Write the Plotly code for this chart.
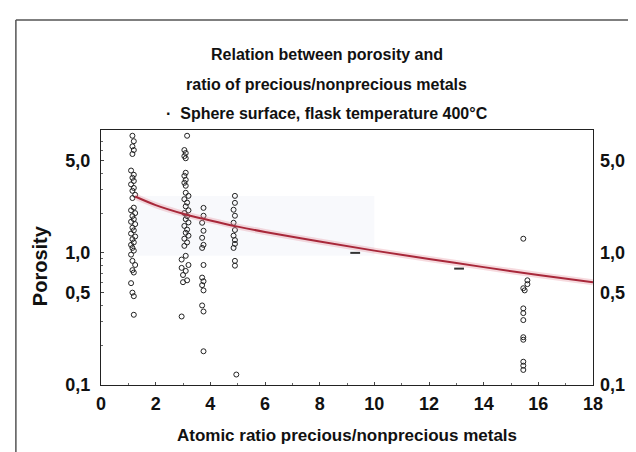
import plotly.graph_objects as go

# ---- data ----
c1_x = [1.15, 1.2, 1.15, 1.2, 1.15, 1.1, 1.2, 1.15, 1.2, 1.1, 1.2, 1.15, 1.25, 1.15,
        1.2, 1.1, 1.25, 1.15, 1.2, 1.1, 1.25, 1.15, 1.2, 1.1, 1.25, 1.15, 1.2, 1.1,
        1.15, 1.2, 1.1, 1.15, 1.25, 1.15, 1.2, 1.1, 1.15, 1.2, 1.2]
c1_y = [7.7, 7.0, 6.4, 6.0, 5.6, 4.2, 3.9, 3.7, 3.5, 3.3, 3.1, 2.95, 2.75, 2.6,
        2.2, 2.1, 2.0, 1.9, 1.8, 1.72, 1.65, 1.55, 1.48, 1.4, 1.33, 1.27, 1.2, 1.15,
        1.09, 1.04, 0.97, 0.87, 0.81, 0.74, 0.71, 0.59, 0.50, 0.47, 0.34]

c2_x = [3.15, 3.05, 3.1, 3.05, 3.1, 3.1, 3.05, 3.1, 3.05, 3.1,
        3.1, 3.2, 3.05, 3.15, 3.1, 3.2, 3.05, 3.15, 3.1, 3.2, 3.05, 3.15, 3.1, 3.2, 3.05, 3.15,
        3.05, 3.1, 2.95, 3.2, 2.95, 3.1, 3.0, 3.15, 3.0, 2.95]
c2_y = [7.7, 6.0, 5.7, 5.4, 5.2, 4.04, 3.83, 3.57, 3.39, 3.22,
        2.85, 2.7, 2.55, 2.4, 2.25, 2.1, 2.0, 1.9, 1.8, 1.7, 1.6, 1.5, 1.42, 1.35, 1.28, 1.2,
        1.13, 0.95, 0.89, 0.81, 0.77, 0.73, 0.68, 0.62, 0.60, 0.33]

c3_x = [3.75, 3.75, 3.7, 3.75, 3.7, 3.75, 3.7, 3.75, 3.7, 3.75, 3.7, 3.75, 3.7, 3.75, 3.75]
c3_y = [2.19, 1.91, 1.69, 1.47, 1.30, 1.15, 1.09, 0.81, 0.65, 0.61, 0.57, 0.52, 0.40, 0.36, 0.18]

c4_x = [4.9, 4.9, 4.85, 4.9, 4.85, 4.9, 4.85, 4.9, 4.9, 4.85, 4.9, 4.9, 4.95]
c4_y = [2.70, 2.39, 2.12, 1.91, 1.69, 1.49, 1.35, 1.25, 1.17, 1.09, 0.87, 0.80, 0.12]

c5_x = [15.45, 15.6, 15.45, 15.5, 15.45, 15.45, 15.45, 15.45, 15.45, 15.45, 15.45, 15.45, 15.6]
c5_y = [1.28, 0.62, 0.54, 0.52, 0.38, 0.35, 0.31, 0.23, 0.22, 0.15, 0.14, 0.13, 0.58]

dash_x = [9.3, 13.1]
dash_y = [1.0, 0.76]

fit_x = [1.25, 2, 3, 4, 5, 6, 8, 10, 12, 14, 16, 18]
fit_y = [2.67, 2.30, 1.98, 1.76, 1.58, 1.44, 1.22, 1.04, 0.90, 0.78, 0.68, 0.60]

x_ticks = [0, 2, 4, 6, 8, 10, 12, 14, 16, 18]
y_ticks = [0.1, 0.5, 1.0, 5.0]
y_ticktext = ["0,1", "0,5", "1,0", "5,0"]
y_minor = [0.2, 0.3, 0.4, 0.6, 0.7, 0.8, 0.9, 2, 3, 4, 6, 7]

title_lines = ["Relation between porosity and",
               "ratio of precious/nonprecious metals",
               "·  Sphere surface, flask temperature 400°C"]
x_title = "Atomic ratio precious/nonprecious metals"
y_title = "Porosity"

FONT = "Liberation Sans, Arial, sans-serif"

fig = go.Figure()

# very faint scan-shading band behind the dense region
fig.add_shape(type="rect", xref="x", yref="y", x0=1.3, x1=10, y0=0.95, y1=2.7,
              fillcolor="rgba(232,236,244,0.3)", line=dict(width=0), layer="below")

all_x = c1_x + c2_x + c3_x + c4_x + c5_x
all_y = c1_y + c2_y + c3_y + c4_y + c5_y
fig.add_trace(go.Scatter(
    x=all_x, y=all_y, mode="markers",
    marker=dict(symbol="circle-open", size=5, color="#222222", line=dict(width=1)),
    showlegend=False, hoverinfo="skip"))

fig.add_trace(go.Scatter(
    x=dash_x, y=dash_y, mode="markers",
    marker=dict(symbol="line-ew", size=7, color="#333333", line=dict(width=2, color="#333333")),
    showlegend=False, hoverinfo="skip"))

fig.add_trace(go.Scatter(x=fit_x, y=fit_y, mode="lines",
                         line=dict(color="rgba(230,150,160,0.35)", width=6, shape="spline"),
                         showlegend=False, hoverinfo="skip"))
fig.add_trace(go.Scatter(x=fit_x, y=fit_y, mode="lines",
                         line=dict(color="#a8283a", width=2, shape="spline"),
                         showlegend=False, hoverinfo="skip"))

fig.add_trace(go.Scatter(x=[None], y=[None], yaxis="y2", showlegend=False, hoverinfo="skip"))

tickfont = dict(family=FONT, size=18, color="#111111")

fig.update_layout(
    width=636, height=452,
    margin=dict(l=93, r=51, t=122, b=75),
    paper_bgcolor="white", plot_bgcolor="white",
    xaxis=dict(range=[0, 18], tickvals=x_ticks, ticktext=[f"<b>{v}</b>" for v in x_ticks],
               showgrid=False, zeroline=False, showline=True, linecolor="#222", linewidth=1.2,
               mirror=True, ticks="inside", ticklen=3, tickcolor="#444",
               minor=dict(ticks="inside", ticklen=2, dtick=1, tickcolor="#666"),
               tickfont=tickfont, ticklabelstandoff=2,
               title=dict(text=f"<b>{x_title}</b>", font=dict(family=FONT, size=17, color="#111"),
                          standoff=16)),
    yaxis=dict(type="log", range=[-1, 0.93], tickvals=y_ticks,
               ticktext=[f"<b>{t}</b>" for t in y_ticktext],
               showgrid=False, zeroline=False, showline=True, linecolor="#222", linewidth=1.2,
               mirror=True, ticks="inside", ticklen=3, tickcolor="#444",
               minor=dict(ticks="inside", ticklen=2, tickvals=y_minor, tickcolor="#666"),
               tickfont=tickfont, ticklabelstandoff=6),
    yaxis2=dict(type="log", range=[-1, 0.93], overlaying="y", side="right",
                tickvals=y_ticks, ticktext=[f"<b>{t}</b>" for t in y_ticktext],
                showgrid=False, zeroline=False, showline=False, ticks="",
                tickfont=tickfont, ticklabelstandoff=6),
)

title_y = [1.298, 1.18, 1.066]
for txt, yy in zip(title_lines, title_y):
    fig.add_annotation(text=f"<b>{txt}</b>", xref="paper", yref="paper",
                       x=0.459, y=yy, xanchor="center", yanchor="middle",
                       showarrow=False, font=dict(family=FONT, size=16, color="#111"))

fig.add_annotation(text=f"<b>{y_title}</b>", xref="paper", yref="paper",
                   x=-0.124, y=0.47, xanchor="center", yanchor="middle", textangle=-90,
                   showarrow=False, font=dict(family=FONT, size=20, color="#111"))

fig.add_shape(type="line", xref="paper", yref="paper", x0=-0.173, x1=-0.173, y0=1.431, y1=-0.3,
              line=dict(color="#555", width=1.5))
fig.add_shape(type="line", xref="paper", yref="paper", x0=-0.173, x1=1.11, y0=1.431, y1=1.431,
              line=dict(color="#555", width=1.5))

fig.write_html("out.html")
